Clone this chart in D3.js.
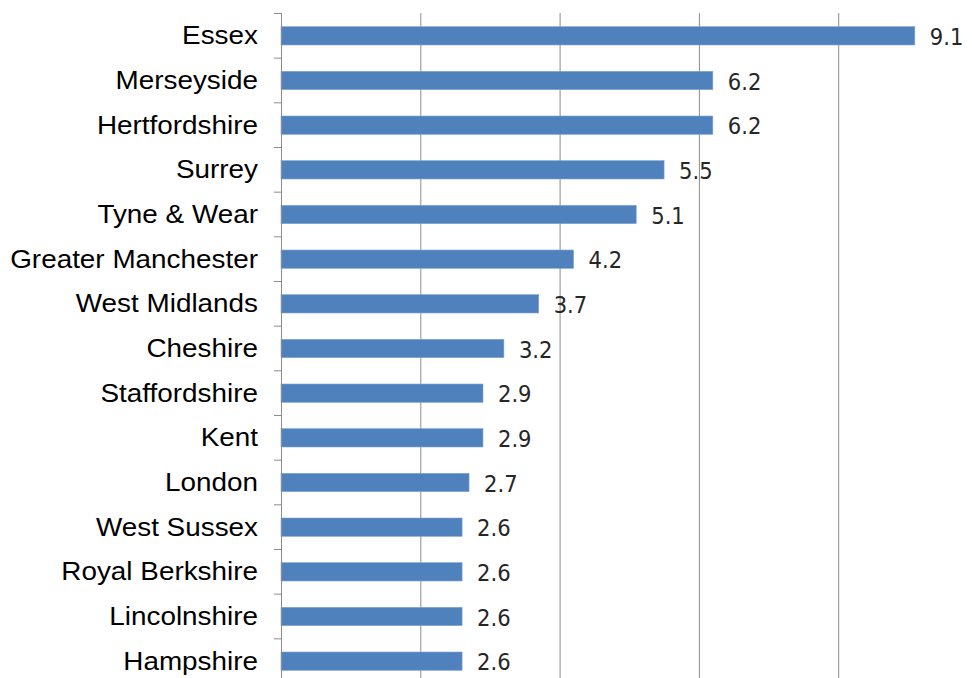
<!DOCTYPE html>
<html>
<head>
<meta charset="utf-8">
<script src="https://cdn.jsdelivr.net/npm/d3@7"></script>
<style>
  html, body { margin: 0; padding: 0; background: #fff; }
  svg { display: block; }
  .cat { font-family: "Liberation Sans", Arial, sans-serif; font-size: 25px; fill: #000; }
  .val { font-family: "Liberation Sans Narrow", "DejaVu Sans Condensed", sans-serif; font-size: 23px; fill: #262626; }
</style>
</head>
<body>
<div id="chart"></div>
<script>
// data
const counties = ["Essex", "Merseyside", "Hertfordshire", "Surrey", "Tyne & Wear",
  "Greater Manchester", "West Midlands", "Cheshire", "Staffordshire", "Kent",
  "London", "West Sussex", "Royal Berkshire", "Lincolnshire", "Hampshire"];
const values = [9.1, 6.2, 6.2, 5.5, 5.1, 4.2, 3.7, 3.2, 2.9, 2.9, 2.7, 2.6, 2.6, 2.6, 2.6];
const gridValues = [2, 4, 6, 8, 10];

const width = 972, height = 678;
const rows = counties.map((c, i) => ({ name: c, value: values[i] }));

//scale
const x = d3.scaleLinear().domain([0, 10]).range([281, 977.5]);
const y = d3.scaleBand().domain(counties).range([13.5, 683.5]).paddingInner(0.59).paddingOuter(0.295);

const svg = d3.select("#chart").append("svg")
  .attr("width", width).attr("height", height);

//grid
svg.selectAll("line.grid").data(gridValues).join("line")
  .attr("class", "grid")
  .attr("x1", d => x(d) + 0.5).attr("x2", d => x(d) + 0.5)
  .attr("y1", 13).attr("y2", 684)
  .attr("stroke", "#8c8c8c").attr("stroke-width", 1);

//bars
svg.selectAll("rect.bar").data(rows).join("rect")
  .attr("class", "bar")
  .attr("x", x(0))
  .attr("y", d => y(d.name))
  .attr("width", d => x(d.value) - x(0))
  .attr("height", y.bandwidth())
  .attr("fill", "#4f81bd")
  .attr("stroke", "#7fa3d3").attr("stroke-width", 0.6);

//y axis
const yAxis = svg.append("g")
  .attr("transform", `translate(${x(0) + 0.5},0)`)
  .call(d3.axisLeft(y).tickSize(0).tickFormat(""));
yAxis.select(".domain").attr("stroke", "#8c8c8c").attr("d", "M0,13V684");

// tick marks between categories
const tickPos = d3.range(counties.length + 1).map(i => 13.5 + i * y.step());
svg.selectAll("line.tick").data(tickPos).join("line")
  .attr("class", "tick")
  .attr("x1", x(0) - 7).attr("x2", x(0) + 0.5)
  .attr("y1", d => d).attr("y2", d => d)
  .attr("stroke", "#8c8c8c");

//category labels
svg.selectAll("text.cat").data(rows).join("text")
  .attr("class", "cat")
  .attr("text-anchor", "end")
  .attr("transform", d => `translate(258,${y(d.name) + y.bandwidth() / 2 + 8.5}) scale(1.115,1)`)
  .text(d => d.name);

//value labels
svg.selectAll("text.val").data(rows).join("text")
  .attr("class", "val")
  .attr("transform", d => `translate(${x(d.value) + 15},${y(d.name) + y.bandwidth() / 2 + 9}) scale(1.02,1)`)
  .text(d => d.value.toFixed(1));
</script>
</body>
</html>
